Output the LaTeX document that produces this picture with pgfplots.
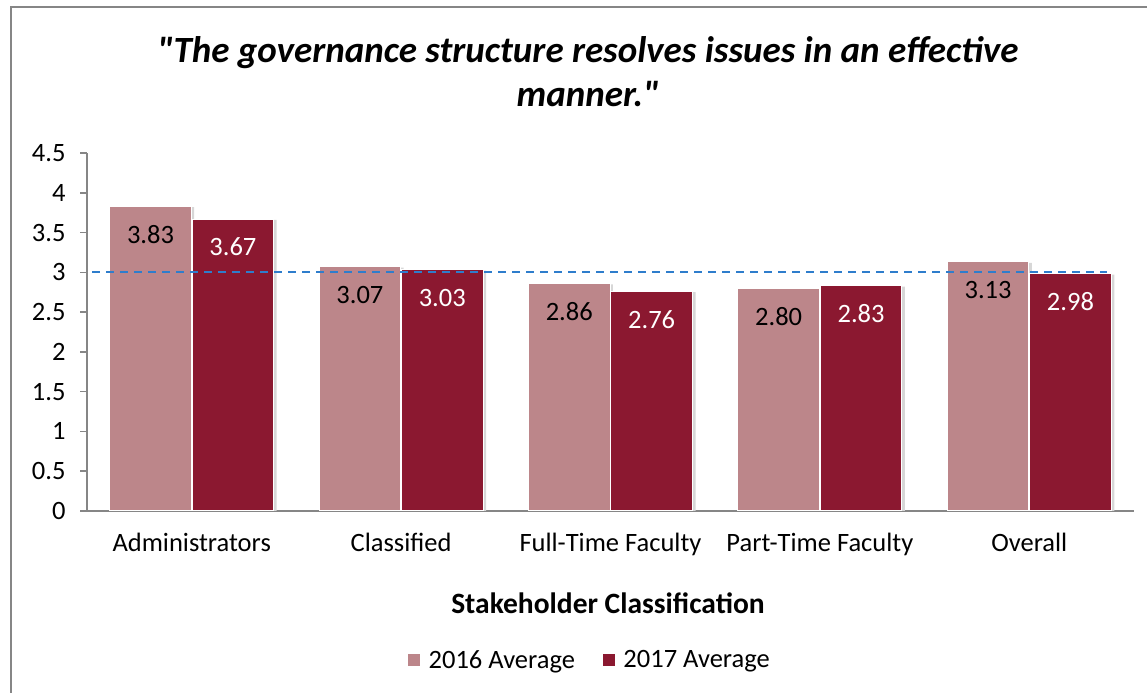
\documentclass[border=0pt]{standalone}
\usepackage{fontspec}
\setmainfont{Carlito}[Ligatures=TeXOff]
\usepackage{pgfplots}
\pgfplotsset{compat=1.18}
\definecolor{c16}{RGB}{188,134,138}
\definecolor{c17}{RGB}{139,24,48}
\definecolor{axgray}{RGB}{134,134,134}
\definecolor{refblue}{RGB}{46,125,204}
\definecolor{shadow}{RGB}{215,215,215}
\begin{document}
\begin{tikzpicture}[x=1bp,y=1bp]
\useasboundingbox (0,0) rectangle (1147,693);
\draw[axgray, line width=2bp] (11,0) -- (11,686) -- (1147,686);
\begin{axis}[
  at={(87bp,182bp)}, anchor=south west,
  scale only axis, width=1047bp, height=358bp,
  xmin=-0.5, xmax=4.5, ymin=0, ymax=4.5,
  ytick={0,0.5,1,1.5,2,2.5,3,3.5,4,4.5},
  yticklabels={0,0.5,1,1.5,2,2.5,3,3.5,4,4.5},
  xtick={0,1,2,3,4},
  xticklabels={Administrators,Classified,Full-Time Faculty,Part-Time Faculty,Overall},
  axis x line*=bottom, axis y line*=left,
  axis line style={axgray, line width=1.5bp, -},
  tick align=outside, major tick length=7bp,
  x tick style={draw=none},
  y tick style={axgray, line width=1.5bp},
  yticklabel style={font=\fontsize{26.5bp}{30bp}\selectfont, xshift=-11bp},
  xticklabel style={font=\fontsize{26.5bp}{30bp}\selectfont, yshift=-12bp},
  /pgf/number format/assume math mode=true,
  xlabel={\textbf{Stakeholder Classification}},
  every axis x label/.style={at={(axis description cs:0.4976,-0.257)}, anchor=center, font=\fontsize{29.5bp}{34bp}\selectfont},
  legend style={at={(axis description cs:0.4804,-0.416)}, anchor=center, draw=none, font=\fontsize{26.5bp}{30bp}\selectfont, legend columns=2, /tikz/every even column/.append style={column sep=26bp}},
  legend image code/.code={\fill[#1,draw=none] (-6bp,-6bp) rectangle (6bp,6bp); \path (12bp,0bp);},
  clip=false,
]
\addplot[ybar, bar width=0.39, bar shift=-0.183, fill=shadow, draw=none, forget plot]
  coordinates {(0,3.82) (1,3.06) (2,2.85) (3,2.79) (4,3.12)};
\addplot[ybar, bar width=0.39, bar shift=0.211, fill=shadow, draw=none, forget plot]
  coordinates {(0,3.66) (1,3.02) (2,2.75) (3,2.82) (4,2.97)};
\addplot[ybar, bar width=0.39, bar shift=-0.197, fill=c16, draw=white, line width=1bp,
  nodes near coords, point meta=y,
  nodes near coords style={anchor=center, xshift=-41.2bp, yshift=-28bp, text=black, font=\fontsize{26.5bp}{30bp}\selectfont, /pgf/number format/.cd, fixed, fixed zerofill, precision=2, assume math mode=true}]
  coordinates {(0,3.83) (1,3.07) (2,2.86) (3,2.80) (4,3.13)};
\addlegendentry{2016 Average}
\addplot[ybar, bar width=0.39, bar shift=0.197, fill=c17, draw=white, line width=1bp,
  nodes near coords, point meta=y,
  nodes near coords style={anchor=center, xshift=41.2bp, yshift=-28bp, text=white, font=\fontsize{26.5bp}{30bp}\selectfont, /pgf/number format/.cd, fixed, fixed zerofill, precision=2, assume math mode=true}]
  coordinates {(0,3.67) (1,3.03) (2,2.76) (3,2.83) (4,2.98)};
\addlegendentry{2017 Average}
\addplot[refblue, line width=2bp, dash pattern=on 8bp off 6bp, forget plot]
  coordinates {(-0.476,3) (4.371,3)};
\end{axis}
\node[anchor=base, font=\fontsize{37bp}{44bp}\selectfont\bfseries\itshape] at (588,630) {"The governance structure resolves issues in an effective};
\node[anchor=base, font=\fontsize{37bp}{44bp}\selectfont\bfseries\itshape] at (588,586) {manner."};
\end{tikzpicture}
\end{document}
